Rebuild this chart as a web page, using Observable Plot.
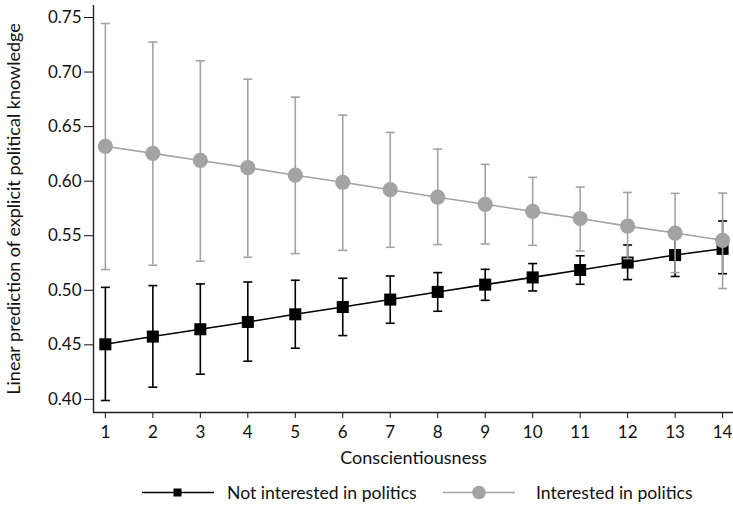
<!DOCTYPE html>
<html>
<head>
<meta charset="utf-8">
<script src="https://cdn.jsdelivr.net/npm/d3@7"></script>
<script src="https://cdn.jsdelivr.net/npm/@observablehq/plot@0.6"></script>
<style>
  html, body { margin: 0; padding: 0; background: #fff; }
  #wrap { position: relative; width: 733px; height: 506px; font-family: Lato, "Noto Sans", sans-serif; color: #111; }
  .legend-item { position: absolute; top: 480px; height: 24px; display: flex; align-items: center; font-size: 17.6px; }
  .legend-item svg { display: block; }
</style>
</head>
<body>
<div id="wrap"></div>
<script>
// Conscientiousness scores (x) and linear predictions with 95% CIs
const conscientiousness = [1, 2, 3, 4, 5, 6, 7, 8, 9, 10, 11, 12, 13, 14];

const notInterestedFit  = [0.4505, 0.4576, 0.4643, 0.4710, 0.4780, 0.4847, 0.4915, 0.4985, 0.5052, 0.5118, 0.5186, 0.5254, 0.5323, 0.5380];
const notInterestedLow  = [0.3990, 0.4112, 0.4231, 0.4350, 0.4469, 0.4585, 0.4698, 0.4808, 0.4908, 0.4994, 0.5055, 0.5098, 0.5127, 0.5152];
const notInterestedHigh = [0.5027, 0.5043, 0.5058, 0.5076, 0.5092, 0.5110, 0.5131, 0.5162, 0.5192, 0.5245, 0.5316, 0.5415, 0.5520, 0.5635];

const interestedFit  = [0.6320, 0.6255, 0.6190, 0.6124, 0.6055, 0.5990, 0.5922, 0.5853, 0.5788, 0.5723, 0.5658, 0.5588, 0.5525, 0.5458];
const interestedLow  = [0.5190, 0.5229, 0.5266, 0.5302, 0.5336, 0.5366, 0.5394, 0.5419, 0.5424, 0.5412, 0.5360, 0.5290, 0.5162, 0.5016];
const interestedHigh = [0.7445, 0.7274, 0.7103, 0.6935, 0.6770, 0.6605, 0.6447, 0.6294, 0.6154, 0.6035, 0.5946, 0.5897, 0.5888, 0.5891];

const yTicks = [0.40, 0.45, 0.50, 0.55, 0.60, 0.65, 0.70, 0.75];
const seriesNames = ["Not interested in politics", "Interested in politics"];

const xDomain = [0.75, 14.23];
const yDomain = [0.388, 0.761];

const BLACK = "#000000";
const GREY = "#a3a3a3";

const rows = (fit, lo, hi) => conscientiousness.map((x, i) => ({x, fit: fit[i], lo: lo[i], hi: hi[i]}));
const notInterested = rows(notInterestedFit, notInterestedLow, notInterestedHigh);
const interested = rows(interestedFit, interestedLow, interestedHigh);

// horizontal cap glyph for the CI whiskers
const capSymbol = {
  draw(context, size) {
    const h = Math.sqrt(size / Math.PI);
    context.moveTo(-h, 0);
    context.lineTo(h, 0);
  }
};

function seriesMarks(data, color, symbol, r) {
  return [
    Plot.ruleX(data, {x: "x", y1: "lo", y2: "hi", stroke: color, strokeWidth: 1.6}),
    Plot.dot(data, {x: "x", y: "lo", symbol: capSymbol, r: 4.5, fill: "none", stroke: color, strokeWidth: 1.6}),
    Plot.dot(data, {x: "x", y: "hi", symbol: capSymbol, r: 4.5, fill: "none", stroke: color, strokeWidth: 1.6}),
    Plot.line(data, {x: "x", y: "fit", stroke: color, strokeWidth: 1.6}),
    Plot.dot(data, {x: "x", y: "fit", symbol, r, fill: color, stroke: "none"})
  ];
}

const chart = Plot.plot({
  width: 733,
  height: 470,
  marginLeft: 93,
  marginRight: 0,
  marginTop: 5,
  marginBottom: 58,
  style: {fontFamily: "Lato, 'Noto Sans', sans-serif", fontSize: "17px", color: "#111", background: "#fff"},
  x: {domain: xDomain},
  y: {domain: yDomain},
  marks: [
    // tick labels
    Plot.axisY({ticks: yTicks, tickFormat: d3.format(".2f"), tickSize: 9, tickPadding: 3, label: null}),
    Plot.axisX({ticks: conscientiousness, tickFormat: d3.format("d"), tickSize: 6, tickPadding: 7, label: null}),
    // axis titles
    Plot.axisY({ticks: [], tickSize: 0, fontSize: 18,
      label: "Linear prediction of explicit political knowledge", labelAnchor: "center", labelArrow: "none", labelOffset: 86}),
    Plot.axisX({ticks: [], tickSize: 0, fontSize: 18,
      label: "Conscientiousness", labelAnchor: "center", labelArrow: "none", labelOffset: 51}),
    Plot.ruleX([xDomain[0]], {stroke: "#222", strokeWidth: 1.4}),
    Plot.ruleY([yDomain[0]], {stroke: "#222", strokeWidth: 1.4}),
    ...seriesMarks(notInterested, BLACK, "square", 6.8),
    ...seriesMarks(interested, GREY, "circle", 7.6)
  ]
});

const wrap = document.getElementById("wrap");
wrap.appendChild(chart);

// legend below the plot
function legendItem(left, name, color, shape, gap) {
  const item = document.createElement("div");
  item.className = "legend-item";
  item.style.left = left + "px";
  const glyph = shape === "square"
    ? `<rect x="31.5" y="8.5" width="8" height="8" fill="${color}"/>`
    : `<circle cx="36" cy="12.5" r="6.8" fill="${color}"/>`;
  item.innerHTML = `<svg width="72" height="25"><line x1="0" x2="72" y1="12.5" y2="12.5" stroke="${color}" stroke-width="1.6"/>${glyph}</svg><span style="margin-left:${gap}px">${name}</span>`;
  wrap.appendChild(item);
}
legendItem(142, seriesNames[0], BLACK, "square", 13);
legendItem(443, seriesNames[1], GREY, "circle", 21);
</script>
</body>
</html>
